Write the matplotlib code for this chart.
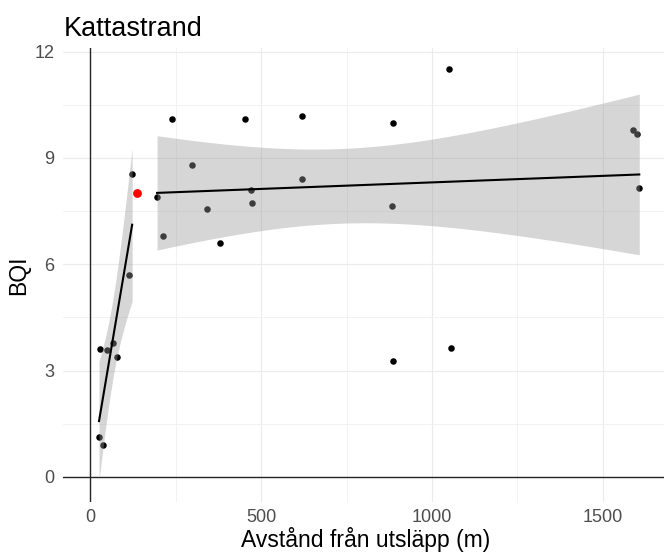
import math
import numpy as np
import matplotlib
matplotlib.use("Agg")
import matplotlib.pyplot as plt

plt.rcParams["font.family"] = ["Liberation Sans", "DejaVu Sans"]

# Distance from outfall (m) and BQI per station
near_x = [25, 36, 29, 47, 65, 78, 113, 122]
near_bqi = [1.11, 0.90, 3.60, 3.57, 3.79, 3.38, 5.69, 8.54]

far_x = [195, 213, 240, 296, 342, 380, 452, 471, 473, 618, 620,
         884, 885, 887, 1051, 1055, 1588, 1601, 1607]
far_bqi = [7.90, 6.80, 10.10, 8.79, 7.57, 6.59, 10.11, 8.10, 7.74, 10.19, 8.40,
           7.64, 9.99, 3.28, 11.50, 3.63, 9.79, 9.68, 8.16]

# Station left out of the regressions
outlier_x = [137]
outlier_bqi = [8.00]

title = "Kattastrand"
x_label = "Avstånd från utsläpp (m)"
y_label = "BQI"
x_ticks = [0, 500, 1000, 1500]
y_ticks = [0, 3, 6, 9, 12]


def t_quantile(p, df):
    """Student t quantile by bisection on a numerically integrated CDF."""
    c = math.gamma((df + 1) / 2) / (math.sqrt(df * math.pi) * math.gamma(df / 2))

    def cdf(t):
        xs = np.linspace(0, t, 4001)
        pdf = c * (1 + xs ** 2 / df) ** (-(df + 1) / 2)
        return 0.5 + np.trapezoid(pdf, xs)

    lo, hi = 0.0, 20.0
    for _ in range(60):
        mid = (lo + hi) / 2
        if cdf(mid) < p:
            lo = mid
        else:
            hi = mid
    return (lo + hi) / 2


def lm_band(x, y, n_grid=80, level=0.95):
    x = np.asarray(x, float)
    y = np.asarray(y, float)
    n = len(x)
    slope, intercept = np.polyfit(x, y, 1)
    resid = y - (intercept + slope * x)
    s = math.sqrt(np.sum(resid ** 2) / (n - 2))
    sxx = np.sum((x - x.mean()) ** 2)
    grid = np.linspace(x.min(), x.max(), n_grid)
    fit = intercept + slope * grid
    se = s * np.sqrt(1 / n + (grid - x.mean()) ** 2 / sxx)
    t = t_quantile(0.5 + level / 2, n - 2)
    return grid, fit, fit - t * se, fit + t * se


fig = plt.figure(figsize=(6.64, 5.52), dpi=100)
ax = fig.add_axes([63 / 664, 1 - 502 / 552, (669.5 - 63) / 664, (502 - 48) / 552])

ax.set_xlim(-80.5, 1695.5)
ax.set_ylim(-0.71, 12.10)

for s in ax.spines.values():
    s.set_visible(False)

ax.set_xticks(x_ticks)
ax.set_yticks(y_ticks)
ax.set_xticks([250, 750, 1250], minor=True)
ax.set_yticks([1.5, 4.5, 7.5, 10.5], minor=True)
ax.tick_params(which="both", length=0)
ax.tick_params(axis="x", pad=5, labelsize=13, labelcolor="#4D4D4D")
ax.tick_params(axis="y", pad=6, labelsize=13, labelcolor="#4D4D4D")
ax.grid(which="major", color="#EBEBEB", linewidth=0.8)
ax.grid(which="minor", color="#F2F2F2", linewidth=0.7)
ax.set_axisbelow(True)

ax.axhline(0, color="#262626", linewidth=1.0, zorder=1)
ax.axvline(0, color="#262626", linewidth=1.0, zorder=1)

ax.scatter(near_x + far_x, near_bqi + far_bqi, s=22, color="black",
           linewidths=0, zorder=2)

for gx, gy in ((near_x, near_bqi), (far_x, far_bqi)):
    grid, fit, lo, hi = lm_band(gx, gy)
    ax.fill_between(grid, lo, hi, color="#999999", alpha=0.4,
                    linewidth=0, zorder=3)
    ax.plot(grid, fit, color="black", linewidth=1.5, zorder=4)

ax.scatter(outlier_x, outlier_bqi, s=40, color="#FF0000", linewidths=0, zorder=5)

fig.text(64 / 664, 1 - 35.7 / 552, title, fontsize=19.5, ha="left", va="baseline")
fig.text(366 / 664, 1 - 546.7 / 552, x_label, fontsize=16.5, ha="center", va="baseline")
fig.text(19 / 664, 1 - 275 / 552, y_label, fontsize=16.5, rotation=90,
         ha="center", va="center")

fig.savefig("out.png", dpi=100)
